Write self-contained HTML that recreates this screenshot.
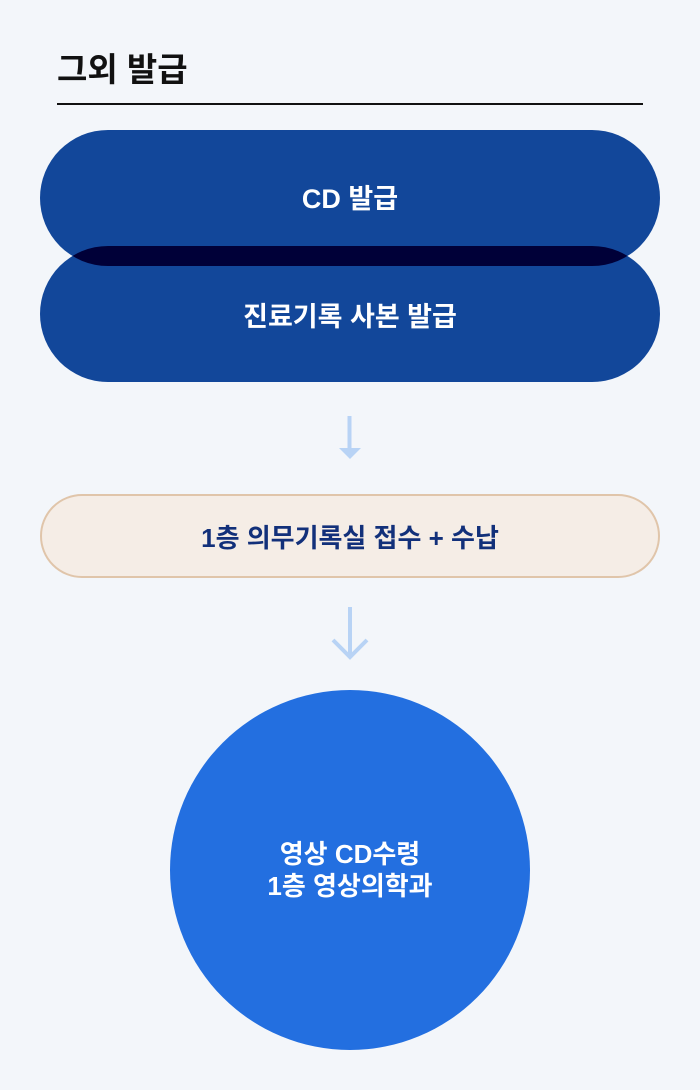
<!DOCTYPE html>
<html><head><meta charset="utf-8"><style>
body{margin:0;width:700px;height:1090px;background:#f3f6fa;position:relative;overflow:hidden;font-family:"Liberation Sans","Noto Sans CJK KR",sans-serif;}
.a{position:absolute;}
.pill{position:absolute;left:40px;width:620px;height:136px;border-radius:68px;background:#12479a;color:#fff;font-weight:bold;font-size:27px;display:flex;align-items:center;justify-content:center;}
</style></head><body>
<div class="a" style="left:57px;top:43px;font-size:33px;font-weight:bold;color:#111;">그외 발급</div>
<div class="a" style="left:57px;top:103px;width:586px;height:2px;background:#111;"></div>
<div class="pill" style="top:246px;"><span style="position:relative">진료기록 사본 발급</span></div>
<svg class="a" style="left:0;top:130px" width="700" height="136"><defs><clipPath id="e"><rect x="40" y="116" width="620" height="136" rx="68"/></clipPath></defs><rect x="40" y="0" width="620" height="136" rx="68" fill="#12479a"/><rect x="40" y="0" width="620" height="136" rx="68" fill="#000038" clip-path="url(#e)"/><text x="350" y="78" text-anchor="middle" fill="#fff" font-size="27" font-weight="bold" font-family="Liberation Sans, Noto Sans CJK KR, sans-serif">CD 발급</text></svg>
<svg class="a" style="left:0;top:0" width="700" height="1090">
<rect x="347.5" y="416" width="4" height="34" fill="#b8d3f5"/>
<polygon points="339,448 361,448 350,459" fill="#b8d3f5"/>
<line x1="350" y1="607" x2="350" y2="656" stroke="#b8d3f5" stroke-width="4"/>
<polyline points="333,640 350,657 367,640" fill="none" stroke="#b8d3f5" stroke-width="4"/>
</svg>
<div class="a" style="left:40px;top:494px;width:616px;height:80px;border:2px solid #e0c5aa;border-radius:42px;background:#f5ede6;color:#12307a;font-weight:bold;font-size:26px;display:flex;align-items:center;justify-content:center;">1층 의무기록실 접수 + 수납</div>
<div class="a" style="left:170px;top:690px;width:360px;height:360px;border-radius:50%;background:#236fe0;color:#fff;font-weight:bold;font-size:26px;line-height:32px;display:flex;align-items:center;justify-content:center;text-align:center;">영상 CD수령<br>1층 영상의학과</div>
</body></html>
